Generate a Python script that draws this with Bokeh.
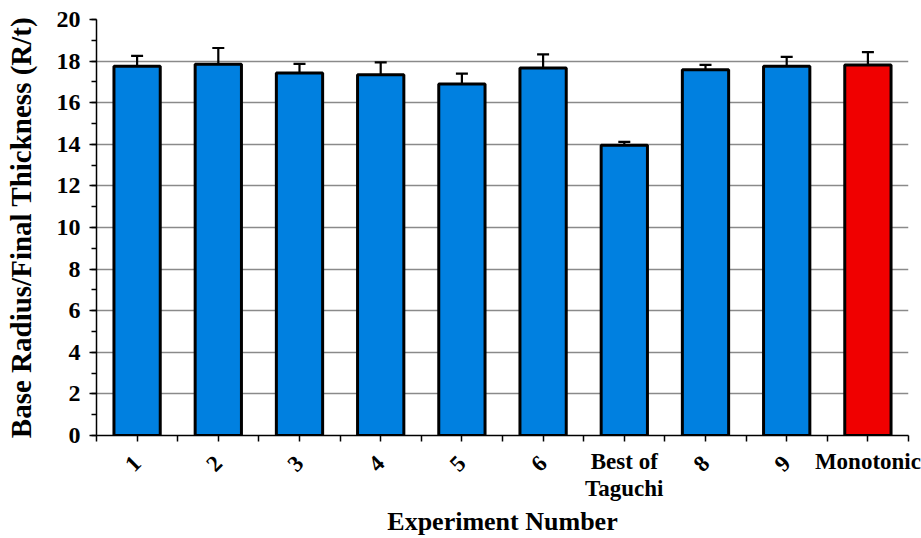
from bokeh.plotting import figure
from bokeh.models import (ColumnDataSource, Range1d, FixedTicker, Whisker, TeeHead, LinearAxis)
from bokeh.embed import file_html
from bokeh.resources import INLINE
import math

categories = ["1", "2", "3", "4", "5", "6", "Best of\nTaguchi", "8", "9", "Monotonic"]
values = [17.75, 17.85, 17.43, 17.34, 16.9, 17.67, 13.95, 17.59, 17.75, 17.81]
errors = [0.50, 0.78, 0.44, 0.60, 0.50, 0.65, 0.17, 0.23, 0.45, 0.62]
colors = ["#0080E0"] * 9 + ["#F00000"]
y_ticks = [0, 2, 4, 6, 8, 10, 12, 14, 16, 18, 20]

FONT = "Liberation Serif"

xs = [i + 0.5 for i in range(len(categories))]
src = ColumnDataSource(dict(
    x=xs, top=values, color=colors,
    upper=[v + e for v, e in zip(values, errors)],
    lower=[v - e for v, e in zip(values, errors)],
))

p = figure(width=921, height=538, output_backend="svg", toolbar_location=None,
           x_range=Range1d(0, len(categories)), y_range=Range1d(0, 20),
           x_axis_location=None,
           min_border_left=96, min_border_right=13, min_border_top=19, min_border_bottom=101)
p.outline_line_color = None
p.background_fill_color = "white"
p.border_fill_color = "white"

p.vbar(x="x", top="top", width=0.57, source=src, fill_color="color",
       line_color="black", line_width=3)

w = Whisker(base="x", upper="upper", lower="lower", source=src, dimension="height",
            line_color="black", line_width=2.2,
            upper_head=TeeHead(size=12, line_color="black", line_width=2.2),
            lower_head=TeeHead(size=12, line_color="black", line_width=2.2))
p.add_layout(w)

# grid
p.xgrid.visible = False
p.ygrid.ticker = FixedTicker(ticks=y_ticks)
p.ygrid.grid_line_color = "#8a8a8a"
p.ygrid.grid_line_width = 1.6

# y axis
yax = p.yaxis[0]
yax.ticker = FixedTicker(ticks=y_ticks, minor_ticks=list(range(0, 21)))
yax.axis_label = "Base Radius/Final Thickness (R/t)"
yax.axis_label_text_font = FONT
yax.axis_label_text_font_style = "bold"
yax.axis_label_text_font_size = "29px"
yax.axis_label_text_color = "black"
yax.axis_label_standoff = 17
yax.major_label_text_font = FONT
yax.major_label_text_font_style = "bold"
yax.major_label_text_font_size = "24px"
yax.major_label_text_color = "black"
yax.major_label_standoff = 9
yax.major_tick_out = 7
yax.major_tick_in = 0
yax.minor_tick_out = 5
yax.minor_tick_in = 0
yax.axis_line_color = "black"
yax.axis_line_width = 1.5
yax.major_tick_line_width = 1.5
yax.minor_tick_line_width = 1.5

# x axis 1: ticks and rotated numeric labels
xax = LinearAxis()
xax.ticker = FixedTicker(ticks=xs, minor_ticks=list(range(0, len(categories) + 1)))
xax.major_label_overrides = {x: (c if c.isdigit() else "") for x, c in zip(xs, categories)}
xax.major_label_orientation = math.pi / 4
xax.major_label_text_font = FONT
xax.major_label_text_font_style = "bold"
xax.major_label_text_font_size = "23px"
xax.major_label_text_color = "black"
xax.major_label_standoff = 18
xax.major_tick_out = 6
xax.major_tick_in = 0
xax.minor_tick_out = 6
xax.minor_tick_in = 0
xax.axis_line_color = "black"
xax.axis_line_width = 1.5
xax.major_tick_line_width = 1.5
xax.minor_tick_line_width = 1.5
p.add_layout(xax, "below")

# x axis 2: horizontal text labels and axis title
xax2 = LinearAxis()
xax2.ticker = FixedTicker(ticks=xs, minor_ticks=[])
xax2.major_label_overrides = {x: ("" if c.isdigit() else c) for x, c in zip(xs, categories)}
xax2.major_label_orientation = "horizontal"
xax2.major_label_text_font = FONT
xax2.major_label_text_font_style = "bold"
xax2.major_label_text_font_size = "23px"
xax2.major_label_text_color = "black"
xax2.major_label_text_line_height = 1.08
xax2.major_label_standoff = -33
xax2.axis_line_color = None
xax2.major_tick_line_color = None
xax2.minor_tick_line_color = None
xax2.major_tick_out = 0
xax2.major_tick_in = 0
xax2.axis_label = "Experiment Number"
xax2.axis_label_text_font = FONT
xax2.axis_label_text_font_style = "bold"
xax2.axis_label_text_font_size = "26px"
xax2.axis_label_text_color = "black"
xax2.axis_label_standoff = 3
p.add_layout(xax2, "below")

open("out.html", "w").write(file_html(p, INLINE))
